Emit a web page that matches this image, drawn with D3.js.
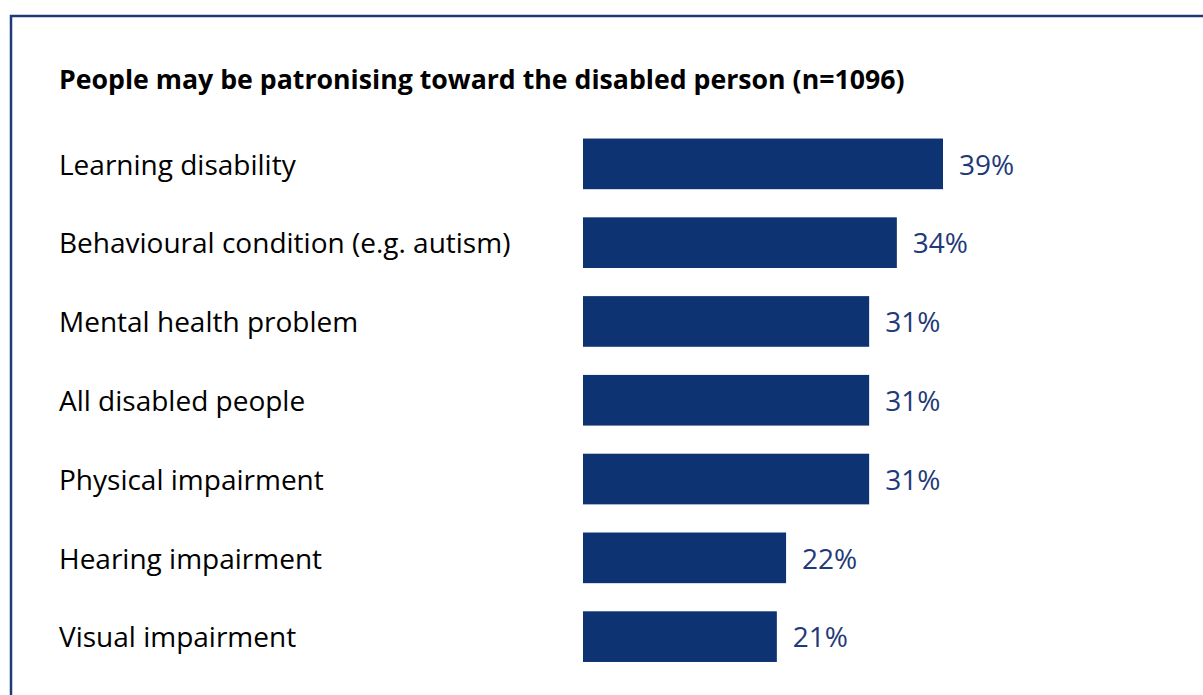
<!DOCTYPE html>
<meta charset="utf-8">
<style>
body { margin: 0; background: #fff; }
svg text { font-family: "Open Sans", "Noto Sans", sans-serif; }
.title { font-weight: 700; font-size: 26.7px; fill: #000; }
.label { font-size: 28px; fill: #000; }
.value { font-size: 28px; fill: #1f3a78; }
</style>
<body>
<div id="chart"></div>
<script src="https://cdnjs.cloudflare.com/ajax/libs/d3/7.8.5/d3.min.js"></script>
<script>

var categories = ['Learning disability',
  'Behavioural condition (e.g. autism)',
  'Mental health problem',
  'All disabled people',
  'Physical impairment',
  'Hearing impairment',
  'Visual impairment'];
var values = [39, 34, 31, 31, 31, 22, 21];
var titleText = 'People may be patronising toward the disabled person (n=1096)';

var width = 1203, height = 695;

var svg = d3.select("#chart").append("svg")
    .attr("width", width).attr("height", height);

// frame, runs off the right and bottom edge
svg.append("rect")
    .attr("x", 11).attr("y", 16)
    .attr("width", 1300).attr("height", 800)
    .attr("fill", "none")
    .attr("stroke", "#1f3a7a")
    .attr("stroke-width", 2.5);

svg.append("text").attr("class", "title")
    .attr("x", 59).attr("y", 80)
    .attr("dy", "0.35em")
    .text(titleText);

var x = d3.scaleLinear().domain([0, 39]).range([583, 943]);
var y = d3.scaleBand().domain(categories)
    .range([124.5, 676]).paddingInner(0.357).paddingOuter(0.178);

var rows = svg.selectAll(".row").data(categories).enter()
    .append("g").attr("class", "row");

rows.append("rect")
    .attr("x", x(0))
    .attr("y", d => y(d))
    .attr("width", (d, i) => x(values[i]) - x(0))
    .attr("height", y.bandwidth())
    .attr("fill", "#0e3372");

rows.append("text").attr("class", "label")
    .attr("x", 59)
    .attr("y", d => y(d) + y.bandwidth() / 2 + 1)
    .attr("dy", "0.35em")
    .text(d => d);

rows.append("text").attr("class", "value")
    .attr("x", (d, i) => x(values[i]) + 16)
    .attr("y", d => y(d) + y.bandwidth() / 2 + 1)
    .attr("dy", "0.35em")
    .text((d, i) => values[i] + "%");

</script>
</body>
